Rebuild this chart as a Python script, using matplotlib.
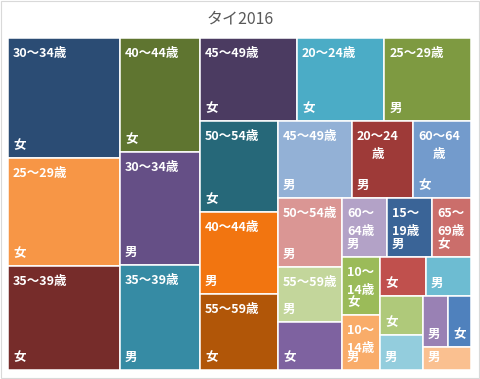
import re
import matplotlib
matplotlib.use("Agg")
import matplotlib.pyplot as plt
from matplotlib.patches import Rectangle
from matplotlib.font_manager import FontProperties
from matplotlib.transforms import IdentityTransform

# ---------------- data ----------------
title = "タイ2016"
ages = ["30～34歳", "25～29歳", "35～39歳", "40～44歳", "30～34歳", "35～39歳",
        "45～49歳", "20～24歳", "25～29歳", "50～54歳", "40～44歳", "55～59歳",
        "45～49歳", "20～24歳", "60～64歳", "50～54歳", "55～59歳", "15～19歳",
        "60～64歳", "15～19歳", "65～69歳", "10～14歳", "10～14歳", "5～9歳",
        "65～69歳", "0～4歳", "5～9歳", "0～4歳", "70歳以上", "70歳以上"]
sexes = ["女", "女", "女", "女", "男", "男",
         "女", "女", "男", "女", "男", "女",
         "男", "男", "女", "男", "男", "女",
         "男", "男", "女", "女", "男", "女",
         "男", "女", "男", "男", "女", "男"]
values = [13440, 12096, 11648, 9120, 9040, 8400,
          8051, 7240, 7230, 7098, 6396, 5928,
          5698, 4697, 4489, 4416, 3520, 3072,
          2670, 2665, 2330, 2204, 2079, 1780,
          1753, 1677, 1505, 1298, 1180, 1096]
colors = ["#2B4C74", "#F79646", "#762C2A", "#5F7530", "#654F86", "#368BA4",
          "#4B3B61", "#4BACC6", "#7E9A41", "#266879", "#F27510", "#B15608",
          "#93B1D6", "#9E3A38", "#739BCC", "#DA9694", "#C3D69B", "#7E62A0",
          "#B3A2C7", "#3A6497", "#CB6E6B", "#9BBB59", "#F9AC69", "#C0504D",
          "#6DBCD2", "#AFC97A", "#93CDDD", "#9981B4", "#4F81BD", "#FAC090"]

# ---------------- layout ----------------
FW, FH = 481, 379
fig = plt.figure(figsize=(FW / 100, FH / 100), dpi=100)
fig.patch.set_facecolor("white")

left_px, top_px, right_px, bottom_px = 8, 38, 471.3, 370
AW, AH = right_px - left_px, bottom_px - top_px
ax = fig.add_axes([left_px / FW, 1 - bottom_px / FH, AW / FW, AH / FH])
ax.set_xlim(0, AW)
ax.set_ylim(AH, 0)
ax.axis("off")


def squarify(vals, x, y, w, h):
    total = sum(vals)
    vals = [v * w * h / total for v in vals]
    rects = []
    i, n = 0, len(vals)
    while i < n:
        vertical = w >= h
        side = h if vertical else w

        def last_ratio(k):
            s = sum(vals[i:i + k])
            t = s / side
            l = vals[i + k - 1] / t
            return max(t / l, l / t)

        k = 1
        if n - i >= 2:
            k = 2
            while i + k < n and last_ratio(k + 1) <= last_ratio(k):
                k += 1
        s = sum(vals[i:i + k])
        t = s / side
        pos = 0
        for j in range(i, i + k):
            l = vals[j] / t
            if vertical:
                rects.append((x, y + pos, t, l))
            else:
                rects.append((x + pos, y, l, t))
            pos += l
        if vertical:
            x += t
            w -= t
        else:
            y += t
            h -= t
        i += k
    return rects


rects = squarify(values, 0, 0, AW, AH)

prop = FontProperties(family=["Noto Sans CJK JP", "DejaVu Sans"], weight="bold", size=9)
renderer = fig.canvas.get_renderer()


def tw(s):
    w, h, d = renderer.get_text_width_height_descent(s, prop, ismath=False)
    return w


def wrap(label, avail):
    tokens = re.findall(r"\d+|.", label)
    lines, cur = [], ""
    for tok in tokens:
        if cur == "" or tw(cur + tok) <= avail:
            cur += tok
        else:
            lines.append(cur)
            cur = tok
    if cur:
        lines.append(cur)
    return lines


PAD = 5
for (x, y, w, h), age, sex, col in zip(rects, ages, sexes, colors):
    ax.add_patch(Rectangle((x, y), w, h, facecolor=col, edgecolor="white", linewidth=1.1))
    if h >= 52 and w >= 30:
        lines = wrap(age, w - 2 * PAD + 0.5)
        blockw = max(tw(L) for L in lines)
        for li, L in enumerate(lines):
            cy = y + 15.5 + 17.5 * li
            if len(lines) == 1:
                ax.text(x + PAD, cy, L, fontproperties=prop, color="white",
                        ha="left", va="center")
            else:
                ax.text(x + PAD + blockw / 2, cy, L, fontproperties=prop, color="white",
                        ha="center", va="center")
    ax.text(x + PAD, y + h - 12.5, sex, fontproperties=prop, color="white",
            ha="left", va="center")

fig.text(0.5, 1 - 19 / FH, title, ha="center", va="center", color="#595959",
         fontsize=11.5, family=["Noto Sans CJK JP", "DejaVu Sans"])

# chart border
fig.add_artist(Rectangle((0.5, FH - 377.5), 478, 377, transform=IdentityTransform(),
                         facecolor="none", edgecolor="#D9D9D9", linewidth=0.8))

fig.savefig("out.png", dpi=100, facecolor="white")
